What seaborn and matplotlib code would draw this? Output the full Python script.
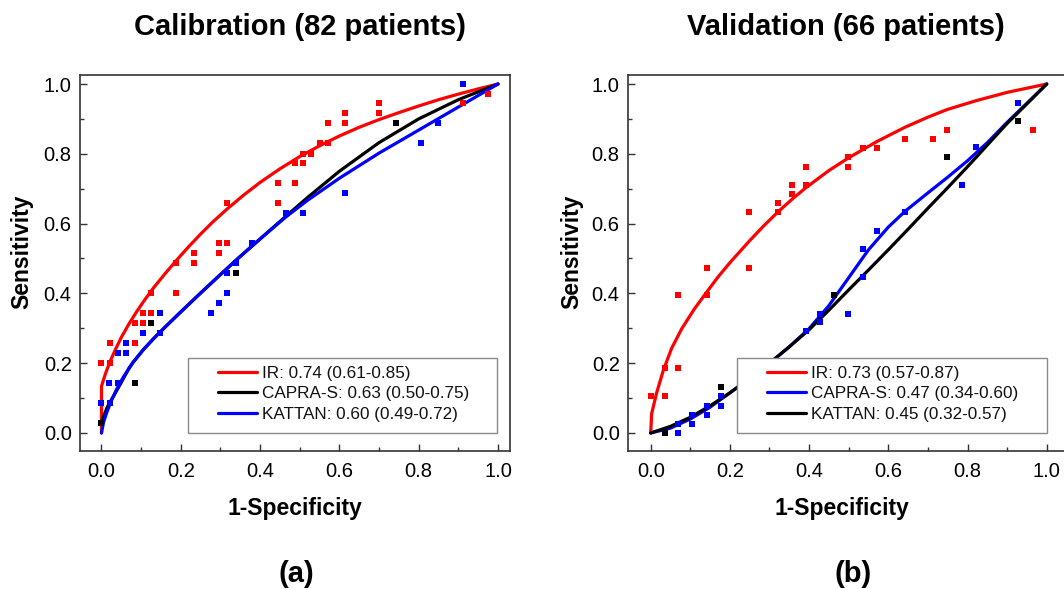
import numpy as np
import pandas as pd
import matplotlib
matplotlib.use("Agg")
import matplotlib.pyplot as plt
from matplotlib.patches import Rectangle
from matplotlib.ticker import MultipleLocator, FormatStrFormatter
import seaborn as sns

# ---------------- data ----------------
# Panel (a) Calibration - fitted ROC curves
a_ir_x = [0, 0, 0.01, 0.021, 0.035, 0.05, 0.07, 0.09, 0.11, 0.13, 0.16, 0.19, 0.22, 0.25, 0.28, 0.317,
          0.36, 0.4, 0.45, 0.5, 0.55, 0.6, 0.65, 0.7, 0.75, 0.8, 0.85, 0.9, 0.95, 1.0]
a_ir_y = [0, 0.134, 0.17, 0.203, 0.239, 0.274, 0.314, 0.35, 0.383, 0.414, 0.456, 0.496, 0.534, 0.57,
          0.604, 0.642, 0.683, 0.718, 0.757, 0.792, 0.823, 0.851, 0.876, 0.898, 0.918, 0.937, 0.955,
          0.971, 0.986, 1.0]
a_capra_x = [0, 0.005, 0.015, 0.03, 0.05, 0.07, 0.08, 0.105, 0.131, 0.16, 0.2, 0.25, 0.3, 0.35, 0.4,
             0.466, 0.52, 0.6, 0.7, 0.8, 0.9, 1.0]
a_capra_y = [0.03, 0.047, 0.075, 0.105, 0.145, 0.187, 0.203, 0.238, 0.27, 0.303, 0.347, 0.401, 0.454,
             0.506, 0.556, 0.622, 0.675, 0.75, 0.832, 0.90, 0.955, 1.0]
a_kattan_x = [0, 0.005, 0.013, 0.025, 0.038, 0.055, 0.08, 0.105, 0.131, 0.16, 0.2, 0.25, 0.3, 0.35, 0.4,
              0.466, 0.52, 0.6, 0.7, 0.8, 0.9, 1.0]
a_kattan_y = [0, 0.03, 0.058, 0.093, 0.125, 0.16, 0.203, 0.238, 0.27, 0.303, 0.347, 0.401, 0.454, 0.506,
              0.556, 0.62, 0.667, 0.73, 0.802, 0.868, 0.934, 1.0]

# Panel (a) observed points
a_ir_px = [0, 0, 0.021, 0.021, 0.084, 0.084, 0.104, 0.104, 0.124, 0.126, 0.189, 0.189, 0.233, 0.233,
           0.296, 0.296, 0.317, 0.317, 0.445, 0.445, 0.487, 0.487, 0.508, 0.508, 0.529, 0.55, 0.571,
           0.571, 0.615, 0.615, 0.699, 0.699, 0.912, 0.976]
a_ir_py = [0.03, 0.20, 0.20, 0.258, 0.258, 0.315, 0.315, 0.344, 0.344, 0.40, 0.40, 0.487, 0.487, 0.515,
           0.515, 0.544, 0.544, 0.658, 0.658, 0.716, 0.716, 0.773, 0.773, 0.80, 0.80, 0.83, 0.83,
           0.887, 0.887, 0.916, 0.916, 0.945, 0.945, 0.971]
a_capra_px = [0, 0.084, 0.124, 0.338, 0.742]
a_capra_py = [0.03, 0.142, 0.314, 0.458, 0.887]
a_kattan_px = [0, 0.021, 0.02, 0.042, 0.042, 0.062, 0.062, 0.105, 0.147, 0.147, 0.275, 0.296, 0.317,
               0.317, 0.338, 0.38, 0.466, 0.508, 0.615, 0.807, 0.849, 0.912]
a_kattan_py = [0.086, 0.086, 0.142, 0.142, 0.229, 0.229, 0.257, 0.286, 0.286, 0.343, 0.344, 0.372, 0.40,
               0.458, 0.487, 0.544, 0.63, 0.63, 0.687, 0.83, 0.887, 1.0]

# Panel (b) Validation - fitted ROC curves
b_ir_x = [0, 0.0025, 0.015, 0.032, 0.053, 0.078, 0.11, 0.141, 0.17, 0.2, 0.249, 0.285, 0.321, 0.36,
          0.392, 0.45, 0.499, 0.571, 0.642, 0.7, 0.749, 0.821, 0.9, 1.0]
b_ir_y = [0, 0.056, 0.115, 0.18, 0.243, 0.298, 0.355, 0.403, 0.447, 0.488, 0.55, 0.593, 0.633, 0.673,
          0.703, 0.752, 0.788, 0.835, 0.876, 0.905, 0.927, 0.952, 0.976, 1.0]
b_capra_x = [0, 0.05, 0.1, 0.15, 0.2, 0.25, 0.3, 0.35, 0.4, 0.45, 0.5, 0.55, 0.6, 0.642, 0.7, 0.75, 0.8,
             0.85, 0.9, 0.95, 1.0]
b_capra_y = [0, 0.014, 0.04, 0.074, 0.115, 0.157, 0.20, 0.247, 0.299, 0.365, 0.445, 0.525, 0.59, 0.635,
             0.688, 0.733, 0.78, 0.832, 0.89, 0.945, 1.0]
b_kattan_x = [0, 0.05, 0.1, 0.15, 0.2, 0.25, 0.3, 0.35, 0.4, 0.45, 0.5, 0.55, 0.6, 0.65, 0.7, 0.75, 0.8,
              0.85, 0.9, 0.95, 1.0]
b_kattan_y = [0, 0.019, 0.045, 0.078, 0.115, 0.157, 0.20, 0.247, 0.296, 0.352, 0.41, 0.467, 0.525, 0.584,
              0.644, 0.703, 0.763, 0.825, 0.887, 0.943, 1.0]

# Panel (b) observed points
b_ir_px = [0, 0.035, 0.035, 0.07, 0.07, 0.141, 0.141, 0.249, 0.249, 0.321, 0.321, 0.356, 0.356, 0.392,
           0.392, 0.499, 0.499, 0.535, 0.571, 0.642, 0.714, 0.749, 0.965]
b_ir_py = [0.107, 0.107, 0.186, 0.186, 0.396, 0.396, 0.474, 0.474, 0.632, 0.632, 0.66, 0.684, 0.711, 0.711,
           0.763, 0.763, 0.79, 0.816, 0.816, 0.843, 0.843, 0.868, 0.868]
b_capra_px = [0.07, 0.07, 0.105, 0.105, 0.141, 0.141, 0.177, 0.177, 0.392, 0.428, 0.428, 0.499, 0.535,
              0.535, 0.571, 0.642, 0.785, 0.821, 0.928]
b_capra_py = [0, 0.025, 0.025, 0.052, 0.052, 0.078, 0.078, 0.106, 0.291, 0.317, 0.342, 0.342, 0.448,
              0.527, 0.579, 0.632, 0.711, 0.819, 0.947]
b_kattan_px = [0.035, 0.177, 0.464, 0.749, 0.928]
b_kattan_py = [0, 0.133, 0.396, 0.79, 0.895]

a_labels = ["IR: 0.74 (0.61-0.85)", "CAPRA-S: 0.63 (0.50-0.75)", "KATTAN: 0.60 (0.49-0.72)"]
b_labels = ["IR: 0.73 (0.57-0.87)", "CAPRA-S: 0.47 (0.34-0.60)", "KATTAN: 0.45 (0.32-0.57)"]
titles = ["Calibration (82 patients)", "Validation (66 patients)"]
panel_tags = ["(a)", "(b)"]
tick_values = [0.0, 0.2, 0.4, 0.6, 0.8, 1.0]

# ---------------- style ----------------
sns.set_style("ticks")
plt.rcParams['font.family'] = ['Liberation Sans', 'DejaVu Sans']
plt.rcParams['text.color'] = 'black'
plt.rcParams['axes.labelcolor'] = 'black'
plt.rcParams['xtick.color'] = 'black'
plt.rcParams['ytick.color'] = 'black'

W, H = 1064, 589
fig = plt.figure(figsize=(W / 100, H / 100), dpi=100)

def fx(px):
    return px / W

def fy(py):
    return 1 - py / H

RED, BLACK, BLUE = "#ff0000", "#000000", "#0000ff"

panels = [
    dict(rect=[fx(80), fy(451), fx(430), (451 - 75) / H], xlim=(-0.0542, 1.0303),
         curves=[(a_ir_x, a_ir_y, RED), (a_capra_x, a_capra_y, BLACK), (a_kattan_x, a_kattan_y, BLUE)],
         points=[(a_ir_px, a_ir_py, RED), (a_capra_px, a_capra_py, BLACK), (a_kattan_px, a_kattan_py, BLUE)],
         labels=a_labels, title_x=299.5, xlabel_x=295, ylabel_x=22, tag_x=296,
         leg_anchor=(218, 366), frame=(188, 358, 497, 433)),
    dict(rect=[fx(628), fy(451), fx(450), (451 - 75) / H], xlim=(-0.0573, 1.079),
         curves=[(b_ir_x, b_ir_y, RED), (b_capra_x, b_capra_y, BLUE), (b_kattan_x, b_kattan_y, BLACK)],
         points=[(b_ir_px, b_ir_py, RED), (b_capra_px, b_capra_py, BLUE), (b_kattan_px, b_kattan_py, BLACK)],
         labels=b_labels, title_x=846, xlabel_x=842, ylabel_x=572, tag_x=853,
         leg_anchor=(767, 366), frame=(737, 358, 1047, 433)),
]

for i, p in enumerate(panels):
    ax = fig.add_axes(p["rect"])
    handles = []
    for (cx, cy, col), lab in zip(p["curves"], p["labels"]):
        df = pd.DataFrame({"x": cx, "y": cy})
        sns.lineplot(data=df, x="x", y="y", sort=False, estimator=None, color=col,
                     linewidth=2.3, ax=ax, zorder=2)
        handles.append(plt.Line2D([], [], color=col, linewidth=2.3, label=lab))
    for (px_, py_, col) in p["points"]:
        dfp = pd.DataFrame({"x": px_, "y": py_})
        sns.scatterplot(data=dfp, x="x", y="y", color=col, marker="s", s=13, linewidth=0,
                        ax=ax, zorder=3)

    ax.set_xlim(*p["xlim"])
    ax.set_ylim(-0.0516, 1.0258)
    ax.set_xticks(tick_values)
    ax.set_yticks(tick_values)
    ax.xaxis.set_major_formatter(FormatStrFormatter('%.1f'))
    ax.yaxis.set_major_formatter(FormatStrFormatter('%.1f'))
    ax.xaxis.set_minor_locator(MultipleLocator(0.1))
    ax.yaxis.set_minor_locator(MultipleLocator(0.1))
    ax.tick_params(which='both', direction='in', top=False, right=False, color='#333333', width=1)
    ax.tick_params(which='major', length=5, labelsize=14.5, labelcolor='black')
    ax.tick_params(axis='x', which='major', pad=8)
    ax.tick_params(axis='y', which='major', pad=6)
    ax.tick_params(which='minor', length=3)
    ax.set_xlabel("")
    ax.set_ylabel("")
    for sp in ax.spines.values():
        sp.set_color('#333333')
        sp.set_linewidth(1.2)
        sp.set_visible(True)

    # legend frame (white box)
    x0, y0, x1, y1 = p["frame"]
    rect = Rectangle((fx(x0), fy(y1)), fx(x1 - x0), (y1 - y0) / H, transform=fig.transFigure,
                     facecolor='white', edgecolor='#8a8a8a', linewidth=1.0, zorder=4)
    ax.add_artist(rect)
    leg = ax.legend(handles=handles, loc='upper left',
                    bbox_to_anchor=(fx(p["leg_anchor"][0]), fy(p["leg_anchor"][1])),
                    bbox_transform=fig.transFigure, frameon=False, borderpad=0,
                    borderaxespad=0, fontsize=12.3, handlelength=2.3, handletextpad=0.25,
                    labelspacing=0.32)
    leg.set_zorder(5)
    for t in leg.get_texts():
        t.set_color('#111111')

    fig.text(fx(p["title_x"]), fy(35), titles[i], ha='center', va='baseline',
             fontsize=21, fontweight='bold', color='black')
    fig.text(fx(p["xlabel_x"]), fy(515), "1-Specificity", ha='center', va='baseline',
             fontsize=16.5, fontweight='bold', color='black')
    fig.text(fx(p["ylabel_x"]), fy(252), "Sensitivity", ha='center', va='center',
             rotation=90, fontsize=16.5, fontweight='bold', color='black')
    fig.text(fx(p["tag_x"]), fy(582), panel_tags[i], ha='center', va='baseline',
             fontsize=21, fontweight='bold', color='black')

fig.savefig("out.png", dpi=100)
